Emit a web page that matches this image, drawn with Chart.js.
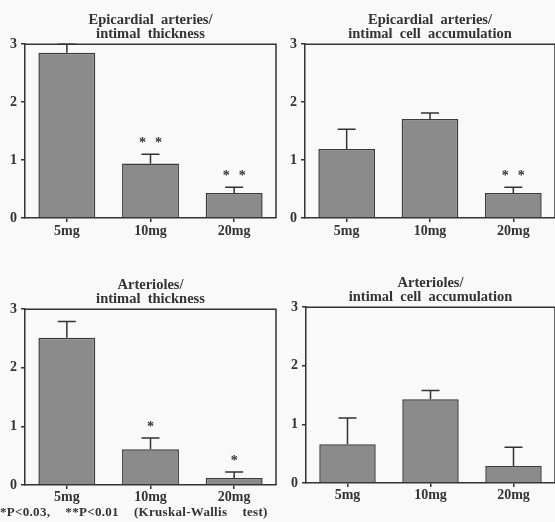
<!DOCTYPE html>
<html>
<head>
<meta charset="utf-8">
<script src="https://cdn.jsdelivr.net/npm/chart.js@4.4.1/dist/chart.umd.min.js"></script>
<style>
  body { margin: 0; background: #f9f9f9; }
  #wrap { position: relative; width: 555px; height: 522px; overflow: hidden; }
  .panel { position: absolute; }
  #note {
    position: absolute; left: 0px; top: 504px;
    font: bold 13px "Liberation Serif", serif; color: #333;
    word-spacing: 4px; letter-spacing: 0.3px; white-space: nowrap;
  }
</style>
</head>
<body>
<div id="wrap">
  <div class="panel" style="left:0;top:0;width:278px;height:245px"><canvas id="c1"></canvas></div>
  <div class="panel" style="left:280px;top:0;width:275px;height:245px"><canvas id="c2"></canvas></div>
  <div class="panel" style="left:0;top:245px;width:278px;height:264px"><canvas id="c3"></canvas></div>
  <div class="panel" style="left:280px;top:245px;width:275px;height:262px"><canvas id="c4"></canvas></div>
  <div id="note">*P&lt;0.03,&nbsp; **P&lt;0.01&nbsp; (Kruskal-Wallis&nbsp; test)</div>
</div>
<script>
const doses = ['5mg', '10mg', '20mg'];
const yTicks = [0, 1, 2, 3];

// means and upper error bar ends
const epiThickness = [2.85, 0.94, 0.43];
const epiThicknessErr = [3.0, 1.10, 0.53];
const epiCells = [1.19, 1.71, 0.43];
const epiCellsErr = [1.53, 1.81, 0.53];
const artThickness = [2.51, 0.61, 0.12];
const artThicknessErr = [2.79, 0.80, 0.22];
const artCells = [0.66, 1.43, 0.29];
const artCellsErr = [1.11, 1.58, 0.61];

// number of stars over each bar
const epiThicknessSig = [0, 2, 2];
const epiCellsSig = [0, 0, 2];
const artThicknessSig = [0, 1, 1];
const artCellsSig = [0, 0, 0];

const ink = '#333333';
const serif = '"Liberation Serif", "DejaVu Serif", serif';

// box around the plot + error bars + significance stars
const extras = {
  id: 'extras',
  afterDatasetsDraw(chart, args, opts) {
    const ctx = chart.ctx;
    const area = chart.chartArea;
    const y = chart.scales.y;
    const meta = chart.getDatasetMeta(0);
    ctx.save();
    ctx.strokeStyle = ink;
    ctx.lineWidth = 1.5;
    ctx.beginPath();
    ctx.moveTo(area.left, area.top);
    ctx.lineTo(area.right, area.top);
    ctx.lineTo(area.right, area.bottom);
    ctx.stroke();

    meta.data.forEach((bar, i) => {
      const top = y.getPixelForValue(opts.err[i]);
      const half = 9;
      ctx.beginPath();
      ctx.moveTo(bar.x, bar.y);
      ctx.lineTo(bar.x, top);
      ctx.moveTo(bar.x - half, top);
      ctx.lineTo(bar.x + half, top);
      ctx.stroke();

      const n = opts.sig[i];
      ctx.fillStyle = ink;
      ctx.font = 'bold 14px ' + serif;
      ctx.textAlign = 'center';
      ctx.textBaseline = 'alphabetic';
      for (let k = 0; k < n; k++) {
        const dx = n === 1 ? 0 : (k === 0 ? -8 : 8);
        ctx.fillText('*', bar.x + dx, top - 7);
      }
    });
    ctx.restore();
  }
};

function makeChart(id, title, values, err, sig, pad, titlePad, labelPad) {
  return new Chart(document.getElementById(id), {
    type: 'bar',
    data: {
      labels: doses,
      datasets: [{
        data: values,
        backgroundColor: '#8b8b8b',
        borderColor: '#3a3a3a',
        borderWidth: 1.5,
        barPercentage: 0.68,
        categoryPercentage: 1
      }]
    },
    plugins: [extras],
    options: {
      animation: false,
      responsive: true,
      maintainAspectRatio: false,
      layout: { padding: pad },
      plugins: {
        legend: { display: false },
        tooltip: { enabled: false },
        title: {
          display: true,
          fullSize: false,
          text: title,
          color: ink,
          font: { family: serif, size: 14.5, weight: 'bold', lineHeight: 0.97 },
          padding: titlePad
        },
        extras: { err: err, sig: sig }
      },
      scales: {
        x: {
          grid: { display: true, drawOnChartArea: false, offset: false, tickLength: 4, color: ink, lineWidth: 1.5 },
          border: { color: ink, width: 1.5 },
          ticks: { color: ink, padding: labelPad, font: { family: serif, size: 14, weight: 'bold' } },
          afterFit: s => { s.height = 24; }
        },
        y: {
          min: 0,
          max: 3,
          afterBuildTicks: s => { s.ticks = yTicks.map(v => ({ value: v })); },
          grid: { display: true, drawOnChartArea: false, tickLength: 4, color: ink, lineWidth: 1.5 },
          border: { color: ink, width: 1.5 },
          ticks: { color: ink, padding: 4, font: { family: serif, size: 14, weight: 'bold' } },
          afterFit: s => { s.width = 25; }
        }
      }
    }
  });
}

makeChart('c1', ['Epicardial  arteries/', 'intimal  thickness'], epiThickness, epiThicknessErr, epiThicknessSig,
  { left: 0, right: 2, top: 0, bottom: 3 }, { top: 13, bottom: 3 }, 1);
makeChart('c2', ['Epicardial  arteries/', 'intimal  cell  accumulation'], epiCells, epiCellsErr, epiCellsSig,
  { left: 0, right: 0, top: 0, bottom: 3 }, { top: 13, bottom: 3 }, 1);
makeChart('c3', ['Arterioles/', 'intimal  thickness'], artThickness, artThicknessErr, artThicknessSig,
  { left: 0, right: 2, top: 0, bottom: 0 }, { top: 33, bottom: 3 }, 0);
makeChart('c4', ['Arterioles/', 'intimal  cell  accumulation'], artCells, artCellsErr, artCellsSig,
  { left: 1, right: 0, top: 0, bottom: 0 }, { top: 31, bottom: 3 }, 0);
</script>
</body>
</html>
